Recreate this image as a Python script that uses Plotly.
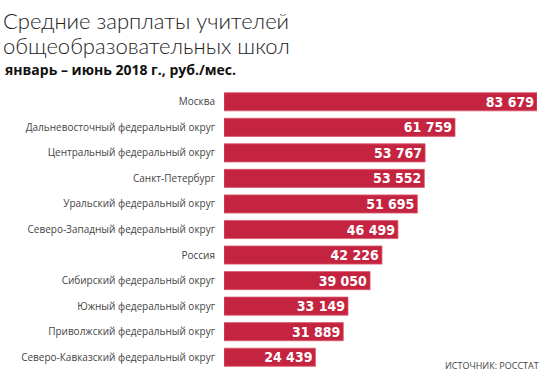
import plotly.graph_objects as go

categories = [
    "Москва",
    "Дальневосточный федеральный округ",
    "Центральный федеральный округ",
    "Санкт-Петербург",
    "Уральский федеральный округ",
    "Северо-Западный федеральный округ",
    "Россия",
    "Сибирский федеральный округ",
    "Южный федеральный округ",
    "Приволжский федеральный округ",
    "Северо-Кавказский федеральный округ",
]
values = [83679, 61759, 53767, 53552, 51695, 46499, 42226, 39050, 33149, 31889, 24439]
value_labels = [f"{v:,}".replace(",", " ") for v in values]

title_line1 = "Средние зарплаты учителей"
title_line2 = "общеобразовательных школ"
subtitle = "январь – июнь 2018 г., руб./мес."
source = "ИСТОЧНИК: РОССТАТ"

W, H = 545, 380
ML, MR, MT, MB = 224, 8, 89, 10
PW, PH = W - ML - MR, H - MT - MB

def px_x(x):
    return (x - ML) / PW

def px_y(y):
    return (H - MB - y) / PH

fig = go.Figure(go.Bar(
    x=values,
    y=categories,
    orientation="h",
    text=value_labels,
    textposition="inside",
    insidetextanchor="end",
    constraintext="none",
    textfont=dict(family="DejaVu Sans Condensed, Liberation Sans Narrow", size=14, color="white", weight="bold"),
    marker=dict(color="#C4243F", line=dict(color="#DA5A6E", width=0.8)),
    hoverinfo="skip",
    cliponaxis=False,
))

fig.update_layout(
    width=W, height=H,
    margin=dict(l=ML, r=MR, t=MT, b=MB),
    paper_bgcolor="white", plot_bgcolor="white",
    bargap=0.29,
    showlegend=False,
    xaxis=dict(range=[0, max(values)], visible=False, fixedrange=True, automargin=False),
    yaxis=dict(
        autorange="reversed", showgrid=False, zeroline=False, showline=False,
        ticks="", ticklabelstandoff=8, automargin=False, fixedrange=True,
        tickfont=dict(family="Open Sans, DejaVu Sans", size=10, color="#444444"),
    ),
    annotations=[
        dict(text=title_line1, xref="paper", yref="paper", x=px_x(2), y=px_y(21),
             xanchor="left", yanchor="middle", showarrow=False, borderpad=0,
             font=dict(family="Lato", size=22, color="#222222", weight=300)),
        dict(text=title_line2, xref="paper", yref="paper", x=px_x(2), y=px_y(45),
             xanchor="left", yanchor="middle", showarrow=False, borderpad=0,
             font=dict(family="Lato", size=22, color="#222222", weight=300)),
        dict(text=subtitle, xref="paper", yref="paper", x=px_x(3), y=px_y(69),
             xanchor="left", yanchor="middle", showarrow=False,
             font=dict(family="Open Sans", size=14, color="#111111", weight="bold")),
        dict(text=source, xref="paper", yref="paper", x=px_x(541), y=px_y(365),
             xanchor="right", yanchor="middle", showarrow=False,
             font=dict(family="Open Sans", size=9, color="#444444")),
    ],
)

fig.write_html(
    "out.html",
    config={"displayModeBar": False},
    post_script="document.body.style.margin='0';document.body.style.overflow='hidden';",
)
